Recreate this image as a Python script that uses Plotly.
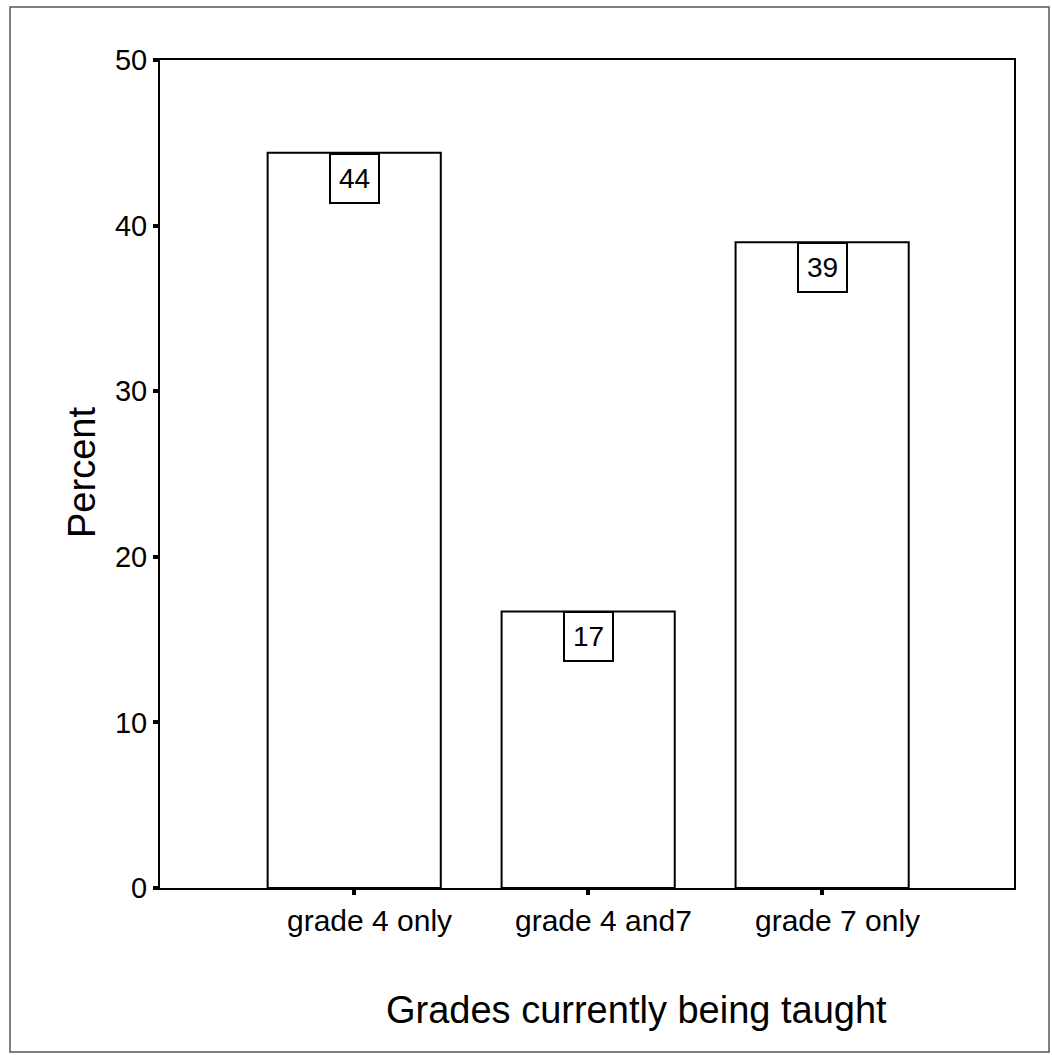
import plotly.graph_objects as go

categories = ["grade 4 only", "grade 4 and7", "grade 7 only"]
percent = [44.4, 16.7, 39.0]
labels = ["44", "17", "39"]
y_ticks = [0, 10, 20, 30, 40, 50]

W, H = 1052, 1055
L, R, T, B = 160, 1014, 60, 888
FONT = "Liberation Sans, Arial, sans-serif"

def px_x(p):
    return (p - L) / (R - L)

def px_y(p):
    return (B - p) / (B - T)

fig = go.Figure()
fig.add_trace(go.Bar(
    x=categories, y=percent, width=0.74,
    marker=dict(color="white", line=dict(color="black", width=2)),
    hoverinfo="skip", showlegend=False,
))

for c, v, t in zip(categories, percent, labels):
    fig.add_annotation(
        x=c, y=v, xref="x", yref="y", text=t, showarrow=False,
        yanchor="top", xanchor="center",
        width=45, height=45, borderpad=1, borderwidth=2,
        bordercolor="black", bgcolor="white",
        font=dict(family=FONT, size=28, color="black"),
    )

# category labels (drawn slightly right of the ticks, as in the original)
for c in categories:
    fig.add_annotation(
        x=c, y=0, xref="x", yref="y", text=c, showarrow=False,
        yanchor="top", xanchor="center", xshift=15, yshift=-14,
        font=dict(family=FONT, size=30, color="black"),
    )

fig.add_annotation(
    x=px_x(636), y=px_y(1010), xref="paper", yref="paper",
    text="Grades currently being taught", showarrow=False,
    xanchor="center", yanchor="middle",
    font=dict(family=FONT, size=38, color="black"),
)
fig.add_annotation(
    x=px_x(82), y=px_y(473), xref="paper", yref="paper",
    text="Percent", showarrow=False, textangle=-90,
    xanchor="center", yanchor="middle",
    font=dict(family=FONT, size=38, color="black"),
)

# outer frame around whole figure
fig.add_shape(
    type="rect", xref="paper", yref="paper",
    x0=px_x(10), x1=px_x(1049), y0=px_y(1052), y1=px_y(7),
    line=dict(color="#555555", width=1.5), layer="below",
)

fig.update_xaxes(
    range=[-0.83, 2.82], showline=True, mirror=True, linecolor="black",
    linewidth=2, ticks="outside", ticklen=5, tickwidth=4, tickcolor="black",
    showgrid=False, zeroline=False, showticklabels=False,
)
fig.update_yaxes(
    range=[0, 50], tickvals=y_ticks, showline=True, mirror=True,
    linecolor="black", linewidth=2, ticks="outside", ticklen=5,
    tickwidth=4, tickcolor="black", showgrid=False, zeroline=False,
    tickfont=dict(family=FONT, size=29, color="black"),
)

fig.update_layout(
    width=W, height=H, autosize=False,
    margin=dict(l=L, r=W - R, t=T, b=H - B, pad=0),
    paper_bgcolor="white", plot_bgcolor="white",
    bargap=0.26,
)

fig.write_html(
    "out.html",
    config={"displayModeBar": False},
    post_script="document.body.style.margin='0';document.body.style.padding='0';",
)
